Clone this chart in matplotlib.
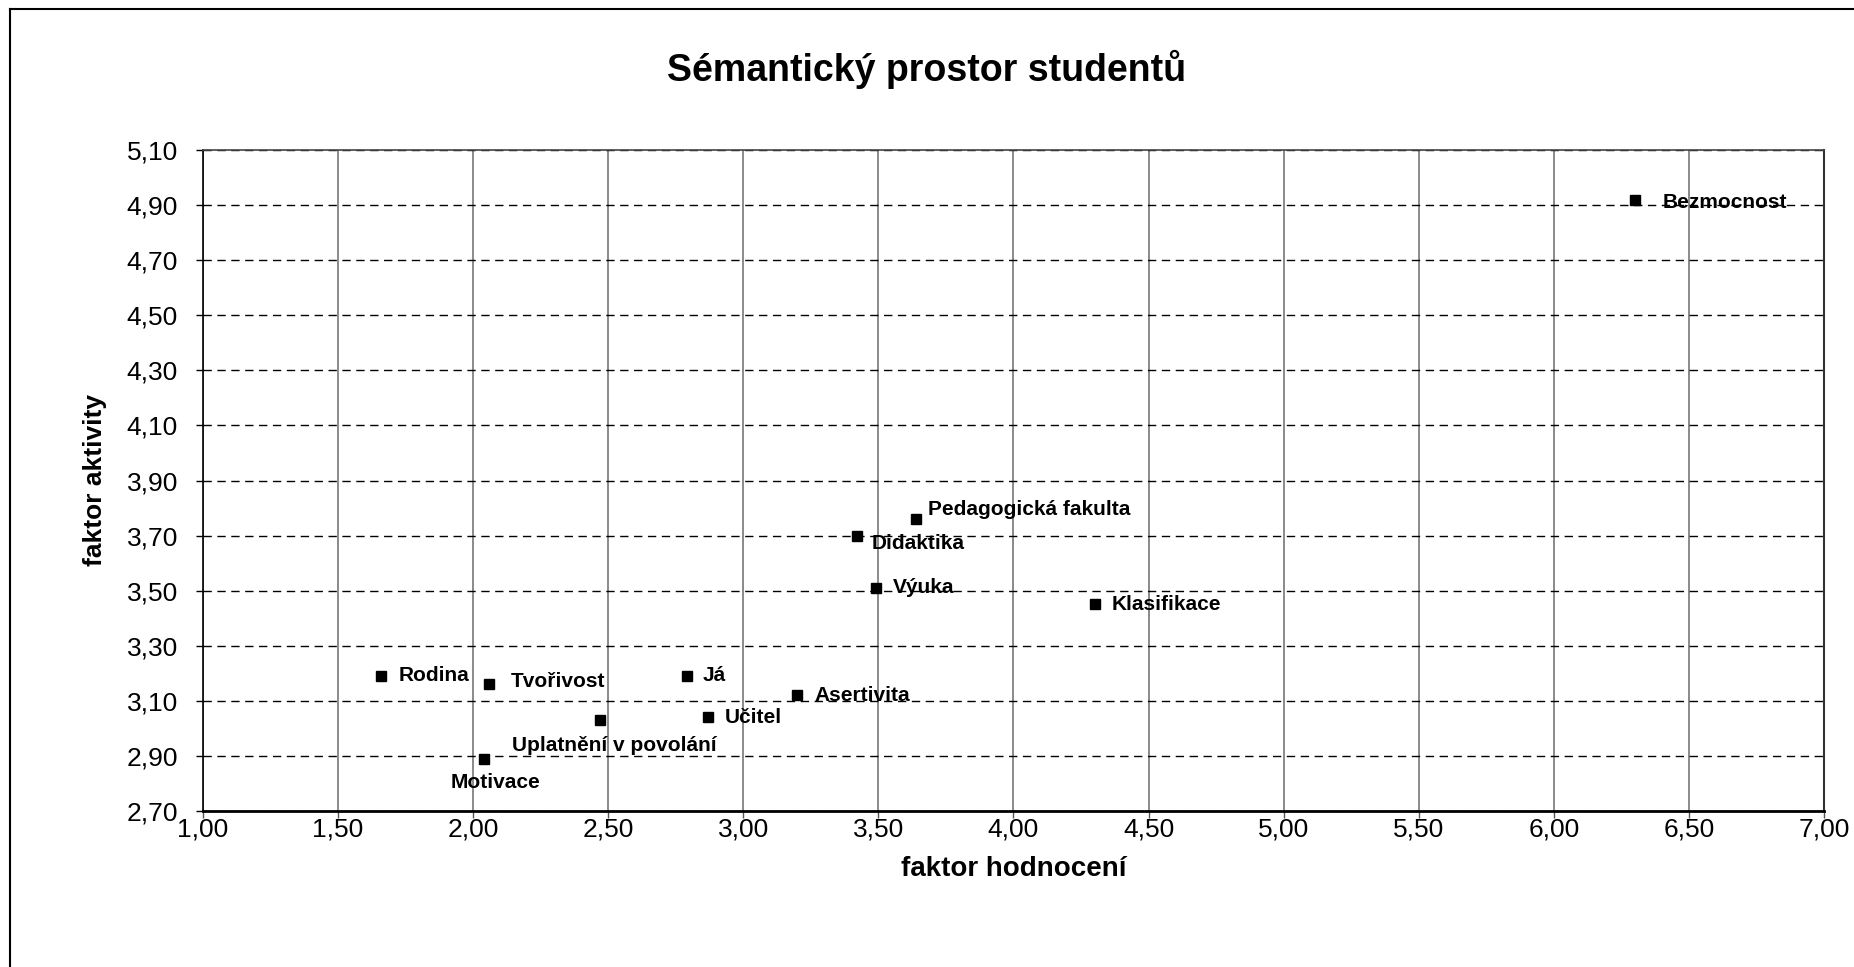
import matplotlib.pyplot as plt
from matplotlib.lines import Line2D
from matplotlib.ticker import FuncFormatter

plt.rcParams['font.family'] = ['Liberation Sans', 'DejaVu Sans']

# Sémantický prostor - souřadnice pojmů
pojmy = ['Bezmocnost', 'Pedagogická fakulta', 'Didaktika', 'Výuka', 'Klasifikace',
         'Rodina', 'Tvořivost', 'Já', 'Asertivita', 'Učitel',
         'Uplatnění v povolání', 'Motivace']
hodnoceni = [6.30, 3.64, 3.42, 3.49, 4.30, 1.66, 2.06, 2.79, 3.20, 2.87, 2.47, 2.04]
aktivita = [4.92, 3.76, 3.70, 3.51, 3.45, 3.19, 3.16, 3.19, 3.12, 3.04, 3.03, 2.89]

# posun popisku od bodu (v pixelech)
posun = {
    'Bezmocnost': (28, -3, 'left'),
    'Pedagogická fakulta': (12, 10, 'left'),
    'Didaktika': (15, -8, 'left'),
    'Výuka': (17, 0, 'left'),
    'Klasifikace': (17, 0, 'left'),
    'Rodina': (17, 1, 'left'),
    'Tvořivost': (21, 3, 'left'),
    'Já': (16, 1, 'left'),
    'Asertivita': (17, 0, 'left'),
    'Učitel': (17, 0, 'left'),
    'Uplatnění v povolání': (14, -25, 'center'),
    'Motivace': (12, -24, 'center'),
}

fig = plt.figure(figsize=(18.54, 9.67), dpi=100)
ax = fig.add_axes([203 / 1854, 1 - 811 / 967, (1824 - 203) / 1854, (811 - 150) / 967])

ax.plot(hodnoceni, aktivita, 's', color='black', markersize=7, linestyle='none')
for nazev, x, y in zip(pojmy, hodnoceni, aktivita):
    dx, dy, ha = posun[nazev]
    ax.annotate(nazev, (x, y), xytext=(dx, dy), textcoords='offset pixels',
                ha=ha, va='center', fontsize=15, fontweight='bold')

ax.set_xlim(1.0, 7.0)
ax.set_ylim(2.70, 5.10)
ax.set_xticks([1.0 + 0.5 * i for i in range(13)])
ax.set_yticks([2.70 + 0.2 * i for i in range(13)])
carka = FuncFormatter(lambda v, p: f'{v:.2f}'.replace('.', ','))
ax.xaxis.set_major_formatter(carka)
ax.yaxis.set_major_formatter(carka)
ax.tick_params(axis='both', labelsize=19, direction='out', colors='black')
ax.tick_params(axis='x', length=5, width=1, color='#555555', pad=0)
ax.tick_params(axis='y', length=5, width=1, pad=13)

ax.xaxis.grid(True, color='#777777', linestyle='-', linewidth=1.2)
ax.yaxis.grid(True, color='black', linestyle=(0, (6, 4)), linewidth=1)
ax.set_axisbelow(True)

ax.spines['left'].set_color('black')
ax.spines['left'].set_linewidth(1.2)
ax.spines['bottom'].set_color('black')
ax.spines['bottom'].set_linewidth(2)
ax.spines['top'].set_color('#444444')
ax.spines['top'].set_linewidth(1.2)
ax.spines['right'].set_color('#333333')
ax.spines['right'].set_linewidth(1.5)

ax.set_xlabel('faktor hodnocení', fontsize=20, fontweight='bold', labelpad=10)
ax.set_ylabel('faktor aktivity', fontsize=19, fontweight='bold', labelpad=14)
fig.text(0.5, 1 - 69 / 967, 'Sémantický prostor studentů',
         ha='center', va='center', fontsize=27, fontweight='bold')

# rámeček grafu (pravý a dolní okraj je oříznutý)
fig.add_artist(Line2D([10 / 1854, 10 / 1854], [0, 1 - 9 / 967], transform=fig.transFigure,
                      color='black', linewidth=1.5))
fig.add_artist(Line2D([10 / 1854, 1], [1 - 9 / 967, 1 - 9 / 967], transform=fig.transFigure,
                      color='black', linewidth=1.5))

fig.savefig('out.png', dpi=100)
